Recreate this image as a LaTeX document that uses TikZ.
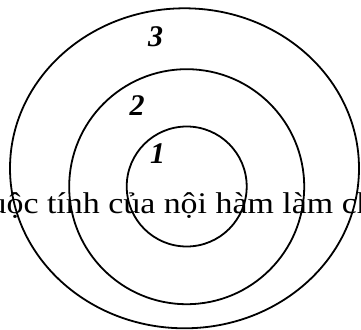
\documentclass[tikz,border=0pt]{standalone}
\usepackage{fontspec}
\setmainfont{Liberation Serif}
\usepackage{graphicx}
\usepackage{tikz}
\usetikzlibrary{positioning}
\tikzset{
  ring/.style={line width=1.8pt, draw=black},
  numlabel/.style={inner sep=0pt, font=\fontsize{30}{32}\selectfont\bfseries\itshape},
  bodytext/.style={inner sep=0pt, anchor=base west,
                   font=\fontsize{30}{32}\selectfont}
}
\begin{document}
\begin{tikzpicture}[x=1pt, y=-1pt]
  \useasboundingbox (0,0) rectangle (361,329);

  % Text line running under the rings
  \node[bodytext] (line) at (-10.6,213) {\scalebox{1.13}[1]{uộc tính của nội hàm làm ch}};

  % Rings
  \draw[ring] (184.5,168.3) ellipse [x radius=174.5, y radius=160];
  \draw[ring] (186.7,186.7) circle [radius=117.5];
  \draw[ring] (186.7,186.5) circle [radius=60];

  % Ring numbers
  \node[numlabel] (n3) at (155.5,37) {3};
  \node[numlabel] (n2) at (137,106) {2};
  \node[numlabel] (n1) at (157.5,153.5) {1};
\end{tikzpicture}
\end{document}
